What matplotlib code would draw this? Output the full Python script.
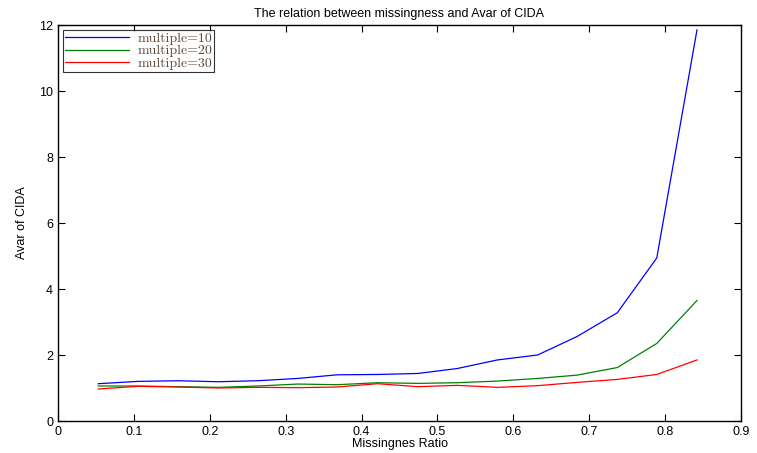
import numpy as np
import matplotlib.pyplot as plt

plt.rcParams['font.family'] = ['Liberation Sans', 'DejaVu Sans']

# missingness ratio k/19
ratio = [0.053, 0.105, 0.158, 0.211, 0.263, 0.316, 0.368, 0.421,
         0.474, 0.526, 0.579, 0.632, 0.684, 0.737, 0.789, 0.842]
avar_10 = [1.13, 1.20, 1.22, 1.19, 1.22, 1.29, 1.40, 1.41,
           1.44, 1.59, 1.85, 2.00, 2.56, 3.28, 4.94, 11.85]
avar_20 = [1.06, 1.06, 1.04, 1.02, 1.06, 1.12, 1.10, 1.16,
           1.14, 1.16, 1.21, 1.29, 1.39, 1.62, 2.35, 3.65]
avar_30 = [0.97, 1.05, 1.03, 1.00, 1.02, 1.01, 1.03, 1.13,
           1.04, 1.08, 1.02, 1.07, 1.17, 1.26, 1.41, 1.85]

fig = plt.figure(figsize=(7.57, 4.53), dpi=100)
ax = fig.add_axes([58/757, 32/453, 683/757, 396/453])

ax.plot(ratio, avar_10, color='#0000ff', lw=0.9, label='multiple=10')
ax.plot(ratio, avar_20, color='#008000', lw=0.9, label='multiple=20')
ax.plot(ratio, avar_30, color='#ff0000', lw=0.9, label='multiple=30')

ax.set_xlim(0, 0.9)
ax.set_ylim(0, 12)
ax.set_xticks(np.arange(0, 0.91, 0.1))
ax.set_xticklabels(['0', '0.1', '0.2', '0.3', '0.4', '0.5', '0.6', '0.7', '0.8', '0.9'])
ax.set_yticks(range(0, 13, 2))
ax.tick_params(direction='in', top=True, right=True, labelsize=9, length=5, width=0.8)
for s in ax.spines.values():
    s.set_linewidth(1.0)

ax.set_title('The relation between missingness and Avar of CIDA', fontsize=9, pad=6)
ax.set_xlabel('Missingnes Ratio', fontsize=9, labelpad=0)
ax.set_ylabel('Avar of CIDA', fontsize=9, labelpad=8)

leg = ax.legend(loc='upper left', prop={'family': 'cmr10', 'size': 10}, frameon=True,
                fancybox=False, edgecolor='black', borderpad=0.15, labelspacing=0.0,
                handlelength=4.6, handletextpad=0.6, borderaxespad=0.35)
leg.get_frame().set_linewidth(0.8)
for t in leg.get_texts():
    t.set_color('#5a4a3a')

fig.savefig('out.png', dpi=100)
